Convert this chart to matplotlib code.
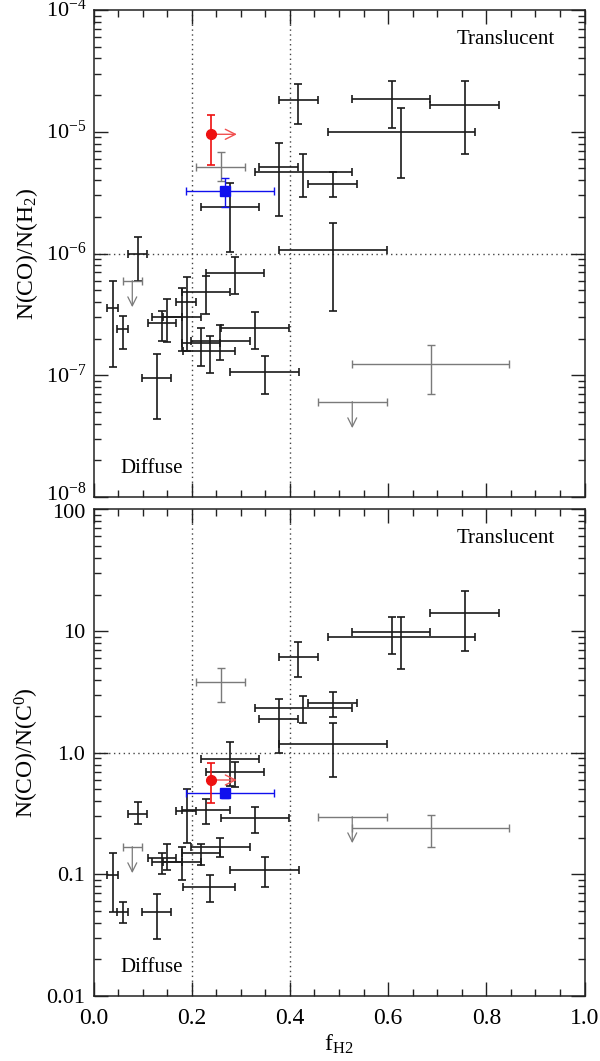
import matplotlib
matplotlib.use("Agg")
import matplotlib.pyplot as plt
import matplotlib.transforms as mtransforms
import numpy as np
from matplotlib.ticker import MultipleLocator, LogLocator, NullFormatter, FixedLocator, FixedFormatter

plt.rcParams['font.family'] = ['Liberation Serif', 'DejaVu Serif']
plt.rcParams['mathtext.fontset'] = 'custom'
plt.rcParams['mathtext.rm'] = 'Liberation Serif'
plt.rcParams['mathtext.it'] = 'Liberation Serif:italic'
plt.rcParams['mathtext.bf'] = 'Liberation Serif:bold'

# ---------------- data ----------------
# main sample (black)
fh2 = [0.090, 0.039, 0.0595, 0.129, 0.140, 0.149, 0.180, 0.190, 0.229, 0.288, 0.218, 0.258,
       0.238, 0.329, 0.349, 0.277, 0.378, 0.427, 0.488, 0.417, 0.626, 0.607, 0.756, 0.488]
fh2_lo = [0.0697, 0.028, 0.0485, 0.099, 0.110, 0.120, 0.142, 0.169, 0.180, 0.229, 0.180, 0.199,
          0.183, 0.260, 0.279, 0.218, 0.338, 0.328, 0.437, 0.378, 0.477, 0.527, 0.686, 0.378]
fh2_hi = [0.109, 0.049, 0.0697, 0.158, 0.168, 0.180, 0.218, 0.209, 0.278, 0.347, 0.258, 0.319,
          0.288, 0.398, 0.418, 0.338, 0.417, 0.527, 0.537, 0.458, 0.776, 0.686, 0.826, 0.597]

co_h2 = [1.00e-6, 3.55e-7, 2.38e-7, 9.55e-8, 2.67e-7, 3.03e-7, 3.03e-7, 4.02e-7, 4.80e-7, 6.95e-7,
         1.83e-7, 1.92e-7, 1.59e-7, 2.46e-7, 1.07e-7, 2.42e-6, 5.16e-6, 4.70e-6, 3.74e-6, 1.82e-5,
         9.95e-6, 1.85e-5, 1.65e-5, 1.07e-6]
co_h2_lo = [5.98e-7, 1.17e-7, 1.64e-7, 4.37e-8, 1.91e-7, 1.89e-7, 1.59e-7, 1.59e-7, 3.18e-7, 4.62e-7,
            1.19e-7, 1.33e-7, 1.05e-7, 1.63e-7, 7.05e-8, 1.03e-6, 2.03e-6, 2.93e-6, 2.91e-6, 1.15e-5,
            4.20e-6, 1.07e-5, 6.60e-6, 3.37e-7]
co_h2_hi = [1.37e-6, 5.98e-7, 3.07e-7, 1.49e-7, 3.37e-7, 4.21e-7, 5.18e-7, 6.45e-7, 6.53e-7, 9.41e-7,
            2.43e-7, 2.59e-7, 2.10e-7, 3.33e-7, 1.44e-7, 3.82e-6, 8.13e-6, 6.56e-6, 4.67e-6, 2.47e-5,
            1.57e-5, 2.63e-5, 2.63e-5, 1.78e-6]

co_c = [0.313, 0.0987, 0.0492, 0.0492, 0.136, 0.127, 0.127, 0.333, 0.338, 0.690, 0.149, 0.169,
        0.0791, 0.289, 0.108, 0.883, 1.88, 2.32, 2.55, 6.16, 8.99, 9.78, 14.2, 1.19]
co_c_lo = [0.259, 0.0492, 0.0395, 0.0294, 0.100, 0.108, 0.0898, 0.180, 0.259, 0.525, 0.119, 0.138,
           0.0592, 0.220, 0.0791, 0.536, 0.99, 1.75, 1.98, 4.17, 4.88, 6.48, 6.90, 0.635]
co_c_hi = [0.395, 0.149, 0.0596, 0.0689, 0.149, 0.177, 0.167, 0.500, 0.416, 0.843, 0.177, 0.198,
           0.0987, 0.360, 0.138, 1.22, 2.76, 2.94, 3.14, 8.09, 13.1, 13.1, 21.5, 1.77]

# grey points
grey_fh2 = [0.259, 0.687]
grey_fh2_lo = [0.208, 0.527]
grey_fh2_hi = [0.308, 0.846]
grey_co_h2 = [5.16e-6, 1.24e-7]
grey_co_h2_lo = [3.94e-6, 7.02e-8]
grey_co_h2_hi = [6.78e-6, 1.77e-7]
grey_co_c = [3.79, 0.239]
grey_co_c_lo = [2.63, 0.169]
grey_co_c_hi = [5.00, 0.308]

# grey upper limits
lim_fh2 = [0.079, 0.527]
lim_fh2_lo = [0.0595, 0.458]
lim_fh2_hi = [0.0988, 0.597]
lim_co_h2 = [5.98e-7, 6.07e-8]
lim_co_c = [0.169, 0.298]

# red point (lower limit in f_H2)
red_fh2 = 0.239
red_co_h2, red_co_h2_lo, red_co_h2_hi = 9.53e-6, 5.33e-6, 1.36e-5
red_co_c, red_co_c_lo, red_co_c_hi = 0.597, 0.384, 0.818

# blue point
blue_fh2, blue_fh2_lo, blue_fh2_hi = 0.268, 0.188, 0.368
blue_co_h2, blue_co_h2_lo, blue_co_h2_hi = 3.28e-6, 2.42e-6, 4.15e-6
blue_co_c, blue_co_c_lo, blue_co_c_hi = 0.463, 0.428, 0.502

bot_ticks = [0.01, 0.1, 1.0, 10, 100]
bot_ticklabels = ['0.01', '0.1', '1.0', '10', '100']

# ---------------- figure ----------------
W, H = 600, 1061
fig = plt.figure(figsize=(W / 100, H / 100), dpi=100)
left = 93.5 / W
width = 491 / W
ax1 = fig.add_axes([left, 1 - 497 / H, width, 487 / H])
ax2 = fig.add_axes([left, 1 - 996 / H, width, 486.5 / H])

BLACK = '#1a1a1a'
GREY = '#7a7a7a'
RED = '#ee1111'
BLUE = '#1010ee'
ARROW_FAC = 1.65   # length of the upper-limit arrows (multiplicative, style)
ARROW_DX = 0.053   # length of the red lower-limit arrow (style)


def errs(v, lo, hi):
    v = np.asarray(v, float)
    return [v - np.asarray(lo, float), np.asarray(hi, float) - v]


def panel(ax, y, ylo, yhi, gy, gylo, gyhi, ly, ry, rylo, ryhi, by, bylo, byhi, yref):
    ax.set_xscale('linear')
    ax.set_yscale('log')
    ax.axvline(0.2, ls=(0, (1, 2.5)), color='#444444', lw=1.0, zorder=1)
    ax.axvline(0.4, ls=(0, (1, 2.5)), color='#444444', lw=1.0, zorder=1)
    ax.axhline(yref, ls=(0, (1, 2.5)), color='#444444', lw=1.0, zorder=1)

    ax.errorbar(fh2, y, xerr=errs(fh2, fh2_lo, fh2_hi), yerr=errs(y, ylo, yhi),
                fmt='none', ecolor=BLACK, elinewidth=1.2, capsize=2.6, capthick=1.2, zorder=3)
    ax.errorbar(grey_fh2, gy, xerr=errs(grey_fh2, grey_fh2_lo, grey_fh2_hi),
                yerr=errs(gy, gylo, gyhi),
                fmt='none', ecolor=GREY, elinewidth=1.0, capsize=2.6, capthick=1.0, zorder=3)
    # upper limits
    ax.errorbar(lim_fh2, ly, xerr=errs(lim_fh2, lim_fh2_lo, lim_fh2_hi),
                fmt='none', ecolor=GREY, elinewidth=1.0, capsize=2.6, capthick=1.0, zorder=3)
    for xx, yy in zip(lim_fh2, ly):
        ax.annotate('', xy=(xx, yy / ARROW_FAC), xytext=(xx, yy),
                    arrowprops=dict(arrowstyle='->', color=GREY, lw=0.9,
                                    mutation_scale=16, shrinkA=0, shrinkB=0), zorder=3)
    # blue
    ax.errorbar([blue_fh2], [by], xerr=errs([blue_fh2], [blue_fh2_lo], [blue_fh2_hi]),
                yerr=errs([by], [bylo], [byhi]), fmt='s', color=BLUE, ms=6.5,
                ecolor=BLUE, elinewidth=1.0, capsize=2.6, capthick=1.0, zorder=5)
    # red
    ax.annotate('', xy=(red_fh2 + ARROW_DX, ry), xytext=(red_fh2, ry),
                arrowprops=dict(arrowstyle='->', color='#f05050', lw=1.0,
                                mutation_scale=18, shrinkA=0, shrinkB=0), zorder=5)
    ax.errorbar([red_fh2], [ry], yerr=errs([ry], [rylo], [ryhi]), fmt='o', color=RED, ms=7,
                ecolor=RED, elinewidth=1.2, capsize=2.6, capthick=1.2, zorder=6)

    ax.set_xlim(0.0, 1.0)
    ax.xaxis.set_major_locator(MultipleLocator(0.2))
    ax.xaxis.set_minor_locator(MultipleLocator(0.05))
    ax.yaxis.set_minor_locator(LogLocator(base=10, subs=np.arange(2, 10), numticks=20))
    ax.yaxis.set_minor_formatter(NullFormatter())
    ax.tick_params(which='both', direction='in', top=True, right=True, colors='#222222',
                   labelcolor='black', labelsize=17, width=1.0)
    ax.tick_params(which='major', length=10)
    ax.tick_params(which='minor', length=5)
    for s in ax.spines.values():
        s.set_linewidth(1.1)
        s.set_color('#222222')


panel(ax1, co_h2, co_h2_lo, co_h2_hi, grey_co_h2, grey_co_h2_lo, grey_co_h2_hi, lim_co_h2,
      red_co_h2, red_co_h2_lo, red_co_h2_hi, blue_co_h2, blue_co_h2_lo, blue_co_h2_hi, 1e-6)
panel(ax2, co_c, co_c_lo, co_c_hi, grey_co_c, grey_co_c_lo, grey_co_c_hi, lim_co_c,
      red_co_c, red_co_c_lo, red_co_c_hi, blue_co_c, blue_co_c_lo, blue_co_c_hi, 1.0)

ax1.set_ylim(1e-8, 1e-4)
ax1.yaxis.set_major_locator(FixedLocator([1e-8, 1e-7, 1e-6, 1e-5, 1e-4]))
ax1.set_xticklabels([])
ax2.set_ylim(0.01, 100)
ax2.yaxis.set_major_locator(FixedLocator(bot_ticks))
ax2.yaxis.set_major_formatter(FixedFormatter(bot_ticklabels))
ax2.set_xticks([0.0, 0.2, 0.4, 0.6, 0.8, 1.0])
ax2.set_xticklabels(['0.0', '0.2', '0.4', '0.6', '0.8', '1.0'])
ax2.tick_params(axis='x', pad=9)
ax1.tick_params(axis='y', pad=5, labelsize=16)
ax2.tick_params(axis='y', pad=6, labelsize=16)

# nudge the crowded labels where the two panels meet
fig.canvas.draw()
for tick in ax1.yaxis.get_major_ticks():
    dy = 5 if np.isclose(tick.get_loc(), 1e-8) else 2
    tr = mtransforms.ScaledTranslation(0, dy / 100, fig.dpi_scale_trans)
    tick.label1.set_transform(tick.label1.get_transform() + tr)
for tick in ax2.yaxis.get_major_ticks():
    if np.isclose(tick.get_loc(), 100):
        tr = mtransforms.ScaledTranslation(0, -2 / 100, fig.dpi_scale_trans)
        tick.label1.set_transform(tick.label1.get_transform() + tr)

ax1.set_ylabel('N(CO)/N(H$_2$)', fontsize=17, labelpad=4)
ax2.set_ylabel('N(CO)/N(C$^0$)', fontsize=17, labelpad=4)
ax2.set_xlabel('f$_{\\mathrm{H2}}$', fontsize=17, labelpad=2)

for ax in (ax1, ax2):
    ax.text(0.94, 0.931, 'Translucent', transform=ax.transAxes, ha='right', va='baseline',
            fontsize=15)
    ax.text(0.055, 0.05, 'Diffuse', transform=ax.transAxes, ha='left', va='baseline',
            fontsize=15)

fig.savefig('out.png', dpi=100)
